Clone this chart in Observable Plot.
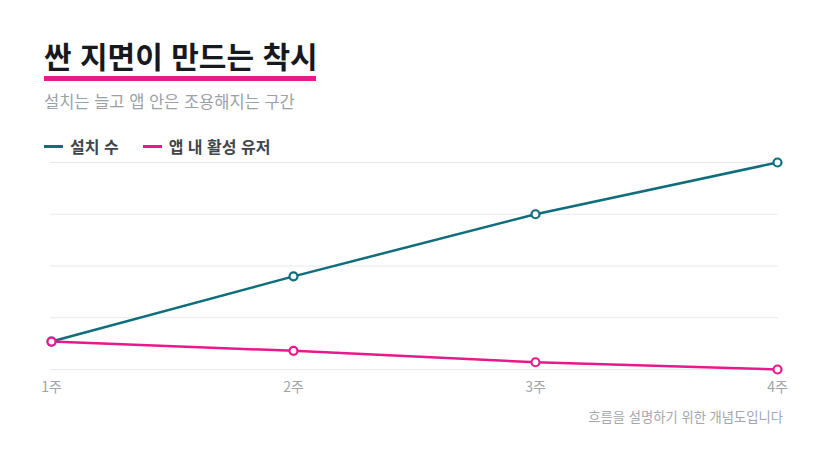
<!DOCTYPE html>
<html lang="ko">
<head>
<meta charset="utf-8">
<script src="https://cdn.jsdelivr.net/npm/d3@7"></script>
<script src="https://cdn.jsdelivr.net/npm/@observablehq/plot@0.6"></script>
<style>
  html, body { margin: 0; padding: 0; background: #ffffff; }
  body { width: 828px; height: 469px; position: relative; overflow: hidden;
         font-family: "Noto Sans CJK KR", "Noto Sans", sans-serif; }
  .abs { position: absolute; line-height: 1; white-space: nowrap; }
  #title { left: 44px; top: 40px; font-size: 30px; font-weight: 700; color: #16191d; }
  #underline { left: 44px; top: 76px; width: 272px; height: 5px; background: #e8198b; }
  #subtitle { left: 44px; top: 93px; font-size: 16.5px; color: #9ba1a7; }
  #legend { left: 44px; top: 138px; font-size: 16px; font-weight: 700; color: #3f454c; display: flex; align-items: center; }
  .item { display: flex; align-items: center; margin-right: 24px; }
  .sw { width: 19px; height: 3px; margin-right: 7px; }
  #chart { left: 0; top: 150px; }
  #caption { right: 45px; top: 410px; font-size: 13.3px; color: #a3a7ac; }
</style>
</head>
<body>
<div id="title" class="abs"></div>
<div id="underline" class="abs"></div>
<div id="subtitle" class="abs"></div>
<div id="legend" class="abs"></div>
<div id="chart" class="abs"></div>
<div id="caption" class="abs"></div>
<script>
const titleText = "싼 지면이 만드는 착시";
const subtitleText = "설치는 늘고 앱 안은 조용해지는 구간";
const captionText = "흐름을 설명하기 위한 개념도입니다";
const weeks = ["1주", "2주", "3주", "4주"];
const installs = [13.5, 45, 75, 100];
const activeUsers = [13.5, 9, 3.5, 0];
const seriesNames = ["설치 수", "앱 내 활성 유저"];
const seriesColors = ["#0f6e7b", "#e8198b"];
const yTicks = [0, 25, 50, 75, 100];

document.getElementById("title").textContent = titleText;
document.getElementById("subtitle").textContent = subtitleText;
document.getElementById("caption").textContent = captionText;

const legend = document.getElementById("legend");
seriesNames.forEach((name, i) => {
  const item = document.createElement("div");
  item.className = "item";
  const sw = document.createElement("div");
  sw.className = "sw";
  sw.style.background = seriesColors[i];
  const label = document.createElement("span");
  label.textContent = name;
  item.appendChild(sw);
  item.appendChild(label);
  legend.appendChild(item);
});

const seriesValues = [installs, activeUsers];
const data = seriesNames.flatMap((s, si) =>
  weeks.map((w, wi) => ({ series: s, week: w, value: seriesValues[si][wi] }))
);

const chart = Plot.plot({
  width: 828,
  height: 250,
  marginLeft: 50,
  marginRight: 50,
  marginTop: 12,
  marginBottom: 31,
  style: { fontFamily: "Noto Sans CJK KR, Noto Sans, sans-serif", fontSize: "14px", color: "#a0a4a9", background: "transparent" },
  x: { type: "point", domain: weeks, padding: 0, label: null },
  y: { domain: [0, 100], axis: null },
  color: { domain: seriesNames, range: seriesColors },
  marks: [
    Plot.gridY(yTicks, { stroke: "#e7e9ec", strokeOpacity: 1 }),
    Plot.line(data, { x: "week", y: "value", z: "series", stroke: "series", strokeWidth: 2.5 }),
    Plot.dot(data, { x: "week", y: "value", stroke: "series", fill: "white", r: 4, strokeWidth: 2.2 }),
    Plot.axisX({ tickSize: 0, tickPadding: 13, fontSize: 14, label: null })
  ]
});
document.getElementById("chart").appendChild(chart);
</script>
</body>
</html>
